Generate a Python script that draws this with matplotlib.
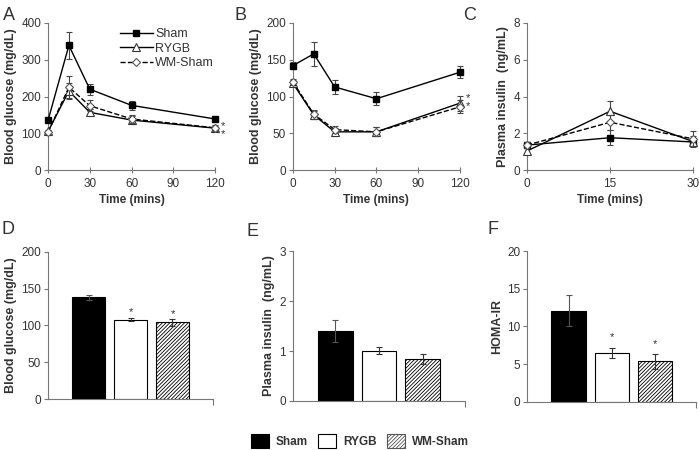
import matplotlib.pyplot as plt
import matplotlib.patches as mpatches

plt.rcParams['font.family'] = ['Liberation Sans', 'DejaVu Sans']
plt.rcParams['hatch.color'] = '#666666'
plt.rcParams['hatch.linewidth'] = 0.6

grupos = ['Sham', 'RYGB', 'WM-Sham']

# painel A - tolerancia oral a glicose
tempoA = [0, 15, 30, 60, 120]
shamA = [135, 339, 220, 176, 139]
shamAerr = [5, 36, 15, 12, 4]
rygbA = [105, 215, 157, 136, 114]
rygbAerr = [4, 21, 8, 10, 6]
wmA = [103, 225, 175, 139, 115]
wmAerr = [4, 30, 15, 12, 8]

# painel B - tolerancia a insulina
tempoB = [0, 15, 30, 60, 120]
shamB = [142, 158, 113, 97, 133]
shamBerr = [5, 16, 10, 9, 8]
rygbB = [118, 75, 52, 52, 91]
rygbBerr = [4, 6, 5, 6, 10]
wmB = [120, 76, 55, 52, 86]
wmBerr = [4, 6, 5, 6, 9]

# painel C - insulina plasmatica
tempoC = [0, 15, 30]
shamC = [1.36, 1.76, 1.53]
shamCerr = [0.15, 0.42, 0.2]
rygbC = [1.04, 3.2, 1.55]
rygbCerr = [0.15, 0.55, 0.3]
wmC = [1.36, 2.6, 1.7]
wmCerr = [0.15, 0.4, 0.4]

# paineis D, E, F - barras
glicoseJejum = [138, 108, 104]
glicoseJejumErr = [3, 2, 5]
insulinaJejum = [1.40, 1.01, 0.84]
insulinaJejumErr = [0.22, 0.08, 0.10]
homaIR = [12.1, 6.45, 5.4]
homaIRErr = [2.1, 0.65, 1.0]

corEixo = '#777777'
corTexto = '#333333'

fig = plt.figure(figsize=(6.99, 4.5), dpi=100)


def estiloEixo(ax):
    for lado in ['top', 'right']:
        ax.spines[lado].set_visible(False)
    for lado in ['left', 'bottom']:
        ax.spines[lado].set_color(corEixo)
        ax.spines[lado].set_linewidth(0.8)
    ax.tick_params(axis='y', direction='out', length=3, color=corEixo, labelsize=8.5, labelcolor=corTexto, pad=2)
    ax.tick_params(axis='x', direction='inout', length=5, color=corEixo, labelsize=8.5, labelcolor=corTexto, pad=3)


def linhas(ax, t, s, se, r, re, w, we):
    ax.errorbar(t, s, yerr=se, color='black', lw=1.0, marker='s', ms=5, mfc='black', mec='black',
                ecolor='#444444', elinewidth=0.8, capsize=2.5, capthick=0.8, clip_on=False, label='Sham', zorder=3)
    ax.errorbar(t, r, yerr=re, color='black', lw=1.0, marker='^', ms=5.5, mfc='white', mec='#333333', mew=0.8,
                ecolor='#444444', elinewidth=0.8, capsize=2.5, capthick=0.8, clip_on=False, label='RYGB', zorder=4)
    ax.errorbar(t, w, yerr=we, color='black', lw=1.0, ls='--', marker='D', ms=4.5, mfc='white', mec='#555555', mew=0.8,
                ecolor='#444444', elinewidth=0.8, capsize=2.5, capthick=0.8, clip_on=False, label='WM-Sham', zorder=5)


# painel A
axA = fig.add_axes([0.0687, 0.622, 0.239, 0.327])
linhas(axA, tempoA, shamA, shamAerr, rygbA, rygbAerr, wmA, wmAerr)
axA.set_xlim(0, 120)
axA.set_ylim(0, 400)
axA.set_xticks([0, 30, 60, 90, 120])
axA.set_yticks([0, 100, 200, 300, 400])
axA.set_xlabel('Time (mins)', fontsize=8.5, weight='bold', color=corTexto, labelpad=3)
axA.set_ylabel('Blood glucose (mg/dL)', fontsize=9, weight='bold', color=corTexto, labelpad=3)
estiloEixo(axA)
hs, ls = axA.get_legend_handles_labels()
hs = [h[0] for h in hs]
axA.legend(hs, ls, loc='upper right', bbox_to_anchor=(1.06, 1.04), frameon=False, fontsize=9,
           handlelength=2.6, handletextpad=0.2, labelspacing=0.2, labelcolor=corTexto)
# asteriscos empilhados num unico texto
axA.text(126, 110, '*\n*', fontsize=8, color=corTexto, ha='center', va='center', linespacing=0.75,
         clip_on=False)
fig.text(0.004, 0.965, 'A', fontsize=13, color=corTexto, va='center')

# painel B
axB = fig.add_axes([0.419, 0.622, 0.239, 0.327])
linhas(axB, tempoB, shamB, shamBerr, rygbB, rygbBerr, wmB, wmBerr)
axB.set_xlim(0, 120)
axB.set_ylim(0, 200)
axB.set_xticks([0, 30, 60, 90, 120])
axB.set_yticks([0, 50, 100, 150, 200])
axB.set_xlabel('Time (mins)', fontsize=8.5, weight='bold', color=corTexto, labelpad=3)
axB.set_ylabel('Blood glucose (mg/dL)', fontsize=9, weight='bold', color=corTexto, labelpad=3)
estiloEixo(axB)
axB.text(126, 92, '*\n*', fontsize=8, color=corTexto, ha='center', va='center', linespacing=0.75,
         clip_on=False)
fig.text(0.336, 0.965, 'B', fontsize=13, color=corTexto, va='center')

# painel C
axC = fig.add_axes([0.754, 0.622, 0.2375, 0.327])
linhas(axC, tempoC, shamC, shamCerr, rygbC, rygbCerr, wmC, wmCerr)
axC.set_xlim(0, 30)
axC.set_ylim(0, 8)
axC.set_xticks([0, 15, 30])
axC.set_yticks([0, 2, 4, 6, 8])
axC.set_xlabel('Time (mins)', fontsize=8.5, weight='bold', color=corTexto, labelpad=3)
axC.set_ylabel('Plasma insulin  (ng/mL)', fontsize=9, weight='bold', color=corTexto, labelpad=3)
estiloEixo(axC)
fig.text(0.662, 0.965, 'C', fontsize=13, color=corTexto, va='center')


def barras(ax, valores, erros):
    pos = [0.97, 1.98, 2.98]
    cores = ['black', 'white', 'white']
    hatches = [None, None, '/////////']
    for p, v, e, c, h in zip(pos, valores, erros, cores, hatches):
        ax.bar(p, v, width=0.8, color=c, edgecolor='black', linewidth=0.8, hatch=h, zorder=2)
        ax.errorbar(p, v, yerr=e, color='#555555' if c == 'black' else '#333333', elinewidth=0.8,
                    capsize=2.5, capthick=0.8, zorder=3)
    ax.set_xlim(0, 3.95)
    ax.set_xticks([3.95])
    ax.set_xticklabels([''])
    estiloEixo(ax)
    ax.tick_params(axis='x', direction='out', length=4)
    return pos


# painel D
axD = fig.add_axes([0.0687, 0.1133, 0.236, 0.327])
posD = barras(axD, glicoseJejum, glicoseJejumErr)
axD.set_ylim(0, 200)
axD.set_yticks([0, 50, 100, 150, 200])
axD.set_ylabel('Blood glucose (mg/dL)', fontsize=9, weight='bold', color=corTexto, labelpad=3)
axD.text(posD[1], 118, '*', fontsize=8, color=corTexto, ha='center', va='center')
axD.text(posD[2], 116, '*', fontsize=8, color=corTexto, ha='center', va='center')
fig.text(0.002, 0.49, 'D', fontsize=13, color=corTexto, va='center')

# painel E
axE = fig.add_axes([0.419, 0.109, 0.246, 0.333])
barras(axE, insulinaJejum, insulinaJejumErr)
axE.set_ylim(0, 3)
axE.set_yticks([0, 1, 2, 3])
axE.set_ylabel('Plasma insulin  (ng/mL)', fontsize=9, weight='bold', color=corTexto, labelpad=3)
fig.text(0.352, 0.485, 'E', fontsize=13, color=corTexto, va='center')

# painel F
axF = fig.add_axes([0.754, 0.107, 0.242, 0.335])
posF = barras(axF, homaIR, homaIRErr)
axF.set_ylim(0, 20)
axF.set_yticks([0, 5, 10, 15, 20])
axF.set_ylabel('HOMA-IR', fontsize=9, weight='bold', color=corTexto, labelpad=3)
axF.text(posF[1], 8.6, '*', fontsize=8, color=corTexto, ha='center', va='center')
axF.text(posF[2], 7.6, '*', fontsize=8, color=corTexto, ha='center', va='center')
fig.text(0.697, 0.49, 'F', fontsize=13, color=corTexto, va='center')

# legenda inferior
patches = [
    mpatches.Patch(facecolor='black', edgecolor='black', linewidth=0.8),
    mpatches.Patch(facecolor='white', edgecolor='black', linewidth=0.8),
    mpatches.Patch(facecolor='white', edgecolor='#555555', linewidth=0.8, hatch='/////////'),
]
fig.legend(patches, grupos, loc='center', bbox_to_anchor=(0.515, 0.02), ncol=3, frameon=False,
           prop={'weight': 'bold', 'size': 8.5}, handlelength=1.5, handleheight=1.4,
           handletextpad=0.6, columnspacing=0.9, labelcolor=corTexto)

plt.savefig('out.png', dpi=100)
plt.close()
